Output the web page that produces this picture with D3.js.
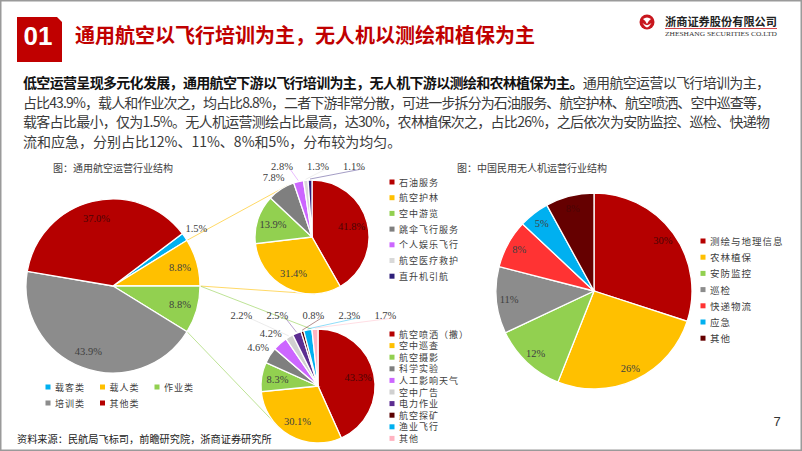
<!DOCTYPE html>
<html>
<head>
<meta charset="utf-8">
<script src="https://cdn.jsdelivr.net/npm/d3@7"></script>
<style>
  body { margin: 0; background: #fff; }
  svg { display: block; }
</style>
</head>
<body>
<svg id="slide" width="802" height="451"></svg>
<script>
// ---- data ----
const gaCats = ["载客类", "载人类", "作业类", "培训类", "其他类"];
const gaVals = [1.5, 8.8, 8.8, 43.9, 37.0];

const mannedCats = ["石油服务", "航空护林", "空中游览", "跳伞飞行服务", "个人娱乐飞行", "航空医疗救护", "直升机引航"];
const mannedVals = [41.8, 31.4, 13.9, 7.8, 2.8, 1.3, 1.1];

const workCats = ["航空喷洒（撒）", "空中巡查", "航空摄影", "科学实验", "人工影响天气", "空中广告", "电力作业", "航空探矿", "渔业飞行", "其他"];
const workVals = [43.3, 30.1, 8.3, 4.6, 4.2, 2.2, 2.5, 0.8, 2.3, 1.7];

const uavCats = ["测绘与地理信息", "农林植保", "安防监控", "巡检", "快递物流", "应急", "其他"];
const uavVals = [30, 26, 12, 11, 8, 5, 8];

const titleText = "通用航空以飞行培训为主，无人机以测绘和植保为主";
const leadText = "低空运营呈现多元化发展，通用航空下游以飞行培训为主，无人机下游以测绘和农林植保为主。";
const bodyLines = [
  "通用航空运营以飞行培训为主，",
  "占比43.9%，载人和作业次之，均占比8.8%，二者下游非常分散，可进一步拆分为石油服务、航空护林、航空喷洒、空中巡查等，",
  "载客占比最小，仅为1.5%。无人机运营测绘占比最高，达30%，农林植保次之，占比26%，之后依次为安防监控、巡检、快递物",
  "流和应急，分别占比12%、11%、8%和5%，分布较为均匀。"
];

// ---- colours ----
const gaColors = ["#00b0f0", "#ffc000", "#92d050", "#8c8c8c", "#b50000"];
const mannedColors = ["#b50000", "#ffc000", "#92d050", "#7f7f7f", "#cc66ff", "#d9d9d9", "#2e1f7a"];
const workColors = ["#b50000", "#ffc000", "#92d050", "#7f7f7f", "#cc66ff", "#d0d0d0", "#5c2d91", "#5a0000", "#00b0f0", "#ffb3c1"];
const uavColors = ["#b50000", "#ffc000", "#92d050", "#8c8c8c", "#ff3333", "#00b0f0", "#650000"];

const cjk = "'Noto Sans CJK SC', 'Noto Sans', sans-serif";
const serif = "'Liberation Serif', 'DejaVu Serif', serif";

const svg = d3.select("#slide");

// frame
svg.append("rect")
   .attr("x", 0.75).attr("y", 0.75).attr("width", 800.5).attr("height", 449.5)
   .attr("fill", "#fff").attr("stroke", "#9a9a9a").attr("stroke-width", 1.5);

// ---- header ----
svg.append("path").attr("d", "M17,17H57L62,22V62H17Z").attr("fill", "#c00000");
svg.append("text").attr("x", 38).attr("y", 44.5).attr("text-anchor", "middle")
   .style("font-family", "'Liberation Sans', Arial, sans-serif").style("font-weight", "bold")
   .style("font-size", "26px").attr("fill", "#fff").text("01");
svg.append("text").attr("x", 75).attr("y", 34).attr("dominant-baseline", "central")
   .style("font-family", cjk).style("font-weight", "bold").style("font-size", "20px")
   .attr("fill", "#c00000").text(titleText);

// logo
let logo = svg.append("g").attr("transform", "translate(647,22)");
logo.append("circle").attr("r", 7.5).attr("fill", "#c8161d");
logo.append("path").attr("d", "M-4,-3 Q0,-6 4,-3 Q1,-1 0,2 Q-1,-1 -4,-3Z").attr("fill", "#fff");
logo.append("path").attr("d", "M-4.5,1 Q-2,5 0,5.5 Q2,5 4.5,1 Q2,3 0,3.2 Q-2,3 -4.5,1Z").attr("fill", "#fff");
svg.append("text").attr("x", 665).attr("y", 21).attr("dominant-baseline", "central")
   .attr("textLength", 112).attr("lengthAdjust", "spacingAndGlyphs")
   .style("font-family", cjk).style("font-weight", "bold").style("font-size", "11.5px")
   .attr("fill", "#222").text("浙商证券股份有限公司");
svg.append("line").attr("x1", 665).attr("x2", 777).attr("y1", 28.5).attr("y2", 28.5)
   .attr("stroke", "#c8161d").attr("stroke-width", 0.8);
svg.append("text").attr("x", 665).attr("y", 33.5).attr("dominant-baseline", "central")
   .attr("textLength", 112).attr("lengthAdjust", "spacingAndGlyphs")
   .style("font-family", serif).style("font-size", "6.5px")
   .attr("fill", "#333").text("ZHESHANG SECURITIES CO.LTD");

// ---- paragraph ----
const lineY = [82, 101.5, 121, 140.5];
bodyLines.forEach(function(t, i) {
  let tx = svg.append("text").attr("x", 23).attr("y", lineY[i]).attr("dominant-baseline", "central")
     .style("font-family", cjk).style("font-size", "14px").attr("fill", "#3a3a3a");
  if (i < 3) tx.attr("textLength", 747).attr("lengthAdjust", "spacing");
  if (i == 0) {
    tx.append("tspan").style("font-weight", "bold").attr("fill", "#111").text(leadText);
  }
  tx.append("tspan").text(t);
});

// ---- chart titles ----
svg.append("text").attr("x", 53).attr("y", 167).attr("dominant-baseline", "central")
   .style("font-family", cjk).style("font-size", "10px").attr("fill", "#404040").text("图：通用航空运营行业结构");
svg.append("text").attr("x", 457).attr("y", 167).attr("dominant-baseline", "central")
   .style("font-family", cjk).style("font-size", "10px").attr("fill", "#404040").text("图：中国民用无人机运营行业结构");

// ---- pie geometry ----
const leftPie = {cx: 113, cy: 286, r: 87};
const topPie = {cx: 312, cy: 237, r: 57};
const botPie = {cx: 318, cy: 386, r: 57};
const uavPie = {cx: 594, cy: 291, r: 98};

const TAU = Math.PI * 2;
// left pie rotated so that 载人类 ends at 3 o'clock
const gaStart = Math.PI / 2 - (gaVals[0] + gaVals[1]) / d3.sum(gaVals) * TAU;
const gaArcs = d3.pie().sort(null).value(d => d).startAngle(gaStart).endAngle(gaStart + TAU)(gaVals);

function onCircle(p, a, rr) {
  let rad = rr == null ? p.r : rr;
  return [p.cx + rad * Math.sin(a), p.cy - rad * Math.cos(a)];
}

// connector lines from the left pie to the two breakdown pies (drawn below the pies)
const conn = svg.append("g").attr("fill", "none").attr("stroke-width", 1);
const deg = Math.PI / 180;
[
  [onCircle(leftPie, gaArcs[1].startAngle), onCircle(topPie, -25 * deg), gaColors[1]],
  [onCircle(leftPie, gaArcs[1].endAngle), onCircle(topPie, 177 * deg), gaColors[1]],
  [onCircle(leftPie, gaArcs[2].startAngle), onCircle(botPie, -6 * deg), gaColors[2]],
  [onCircle(leftPie, gaArcs[2].endAngle), onCircle(botPie, 222 * deg), gaColors[2]]
].forEach(function(c) {
  conn.append("line").attr("x1", c[0][0]).attr("y1", c[0][1]).attr("x2", c[1][0]).attr("y2", c[1][1])
      .attr("stroke", c[2]).attr("stroke-opacity", 0.6);
});

function labelColor(c) {
  return d3.hsl(c).l < 0.4 ? "#4a0505" : "#404040";
}

function drawPie(p, vals, colors, opt) {
  const start = opt.start || 0;
  const arcs = d3.pie().sort(null).value(d => d).startAngle(start).endAngle(start + TAU)(vals);
  const arc = d3.arc().innerRadius(0).outerRadius(p.r);
  const g = svg.append("g").attr("transform", "translate(" + p.cx + "," + p.cy + ")");

  g.selectAll("path.slice").data(arcs).join("path")
    .attr("class", "slice")
    .attr("d", arc)
    .attr("fill", (d, i) => colors[i])
    .attr("stroke", "#fff").attr("stroke-width", 1.3);

  const lArc = d3.arc().innerRadius(p.r * opt.lr).outerRadius(p.r * opt.lr);
  g.selectAll("text.in").data(arcs.filter(d => d.data >= opt.insideMin)).join("text")
    .attr("class", "in")
    .attr("transform", d => "translate(" + lArc.centroid(d) + ")")
    .attr("text-anchor", "middle").attr("dominant-baseline", "central")
    .style("font-family", serif).style("font-size", "10.5px")
    .attr("fill", d => labelColor(colors[d.index]))
    .text(d => opt.fmt(d.data));

  // outside labels for the small slices
  const d0 = p.r + 14;
  const outs = arcs.filter(d => d.data < opt.insideMin).map(function(d) {
    let a = (d.startAngle + d.endAngle) / 2;
    return {d: d, a: a, x: d0 * Math.sin(a), y: -d0 * Math.cos(a), row: false};
  });
  const row = outs.filter(o => o.y < -0.86 * d0);
  if (row.length) {
    let c = d3.mean(row, o => o.x) + 15;
    row.forEach(function(o, i) {
      o.x = c + (i - (row.length - 1) / 2) * 36;
      o.y = -d0;
      o.row = true;
    });
  }
  g.selectAll("line.lead").data(row).join("line")
    .attr("class", "lead")
    .attr("x1", o => (p.r + 1) * Math.sin(o.a)).attr("y1", o => -(p.r + 1) * Math.cos(o.a))
    .attr("x2", o => o.x + 8).attr("y2", o => o.y + 3)
    .attr("stroke", o => colors[o.d.index]).attr("stroke-opacity", 0.55).attr("stroke-width", 0.8);
  g.selectAll("text.out").data(outs).join("text")
    .attr("class", "out")
    .attr("x", o => o.x).attr("y", o => o.y)
    .attr("text-anchor", "middle").attr("dominant-baseline", "central")
    .style("font-family", serif).style("font-size", "10.5px")
    .attr("fill", "#404040")
    .text(o => opt.fmt(o.d.data));
}

const pct1 = v => d3.format(".1f")(v) + "%";
const pct0 = v => d3.format("d")(v) + "%";

drawPie(leftPie, gaVals, gaColors, {start: gaStart, lr: 0.8, insideMin: 5, fmt: pct1});
drawPie(topPie, mannedVals, mannedColors, {lr: 0.72, insideMin: 10, fmt: pct1});
drawPie(botPie, workVals, workColors, {lr: 0.72, insideMin: 8, fmt: pct1});
drawPie(uavPie, uavVals, uavColors, {lr: 0.87, insideMin: 0, fmt: pct0});

// ---- legends ----
function legend(cats, colors, x0, y0, dx, dy, perRow, fs) {
  const g = svg.append("g");
  const items = g.selectAll("g").data(cats).join("g")
    .attr("transform", (d, i) => "translate(" + (x0 + (i % perRow) * dx) + "," + (y0 + Math.floor(i / perRow) * dy) + ")");
  items.append("rect").attr("x", -2.5).attr("y", -2.5).attr("width", 5).attr("height", 5)
    .attr("fill", (d, i) => colors[i]);
  items.append("text").attr("x", 7).attr("dominant-baseline", "central")
    .style("font-family", cjk).style("font-size", fs + "px").style("letter-spacing", "1px")
    .attr("fill", "#404040").text(d => d);
}

legend(gaCats, gaColors, 48, 387, 54.5, 16, 3, 9);
legend(mannedCats, mannedColors, 392, 182, 0, 15.7, 1, 9);
legend(workCats, workColors, 392, 334, 0, 11.6, 1, 9);
legend(uavCats, uavColors, 703, 241, 0, 16.2, 1, 9.5);

// ---- footer ----
svg.append("text").attr("x", 17).attr("y", 438).attr("dominant-baseline", "central")
   .style("font-family", cjk).style("font-size", "10.2px").attr("fill", "#222")
   .text("资料来源：民航局飞标司，前瞻研究院，浙商证券研究所");
svg.append("text").attr("x", 777).attr("y", 421).attr("text-anchor", "middle").attr("dominant-baseline", "central")
   .style("font-family", "'Liberation Sans', Arial, sans-serif").style("font-size", "13px")
   .attr("fill", "#333").text("7");
</script>
</body>
</html>
